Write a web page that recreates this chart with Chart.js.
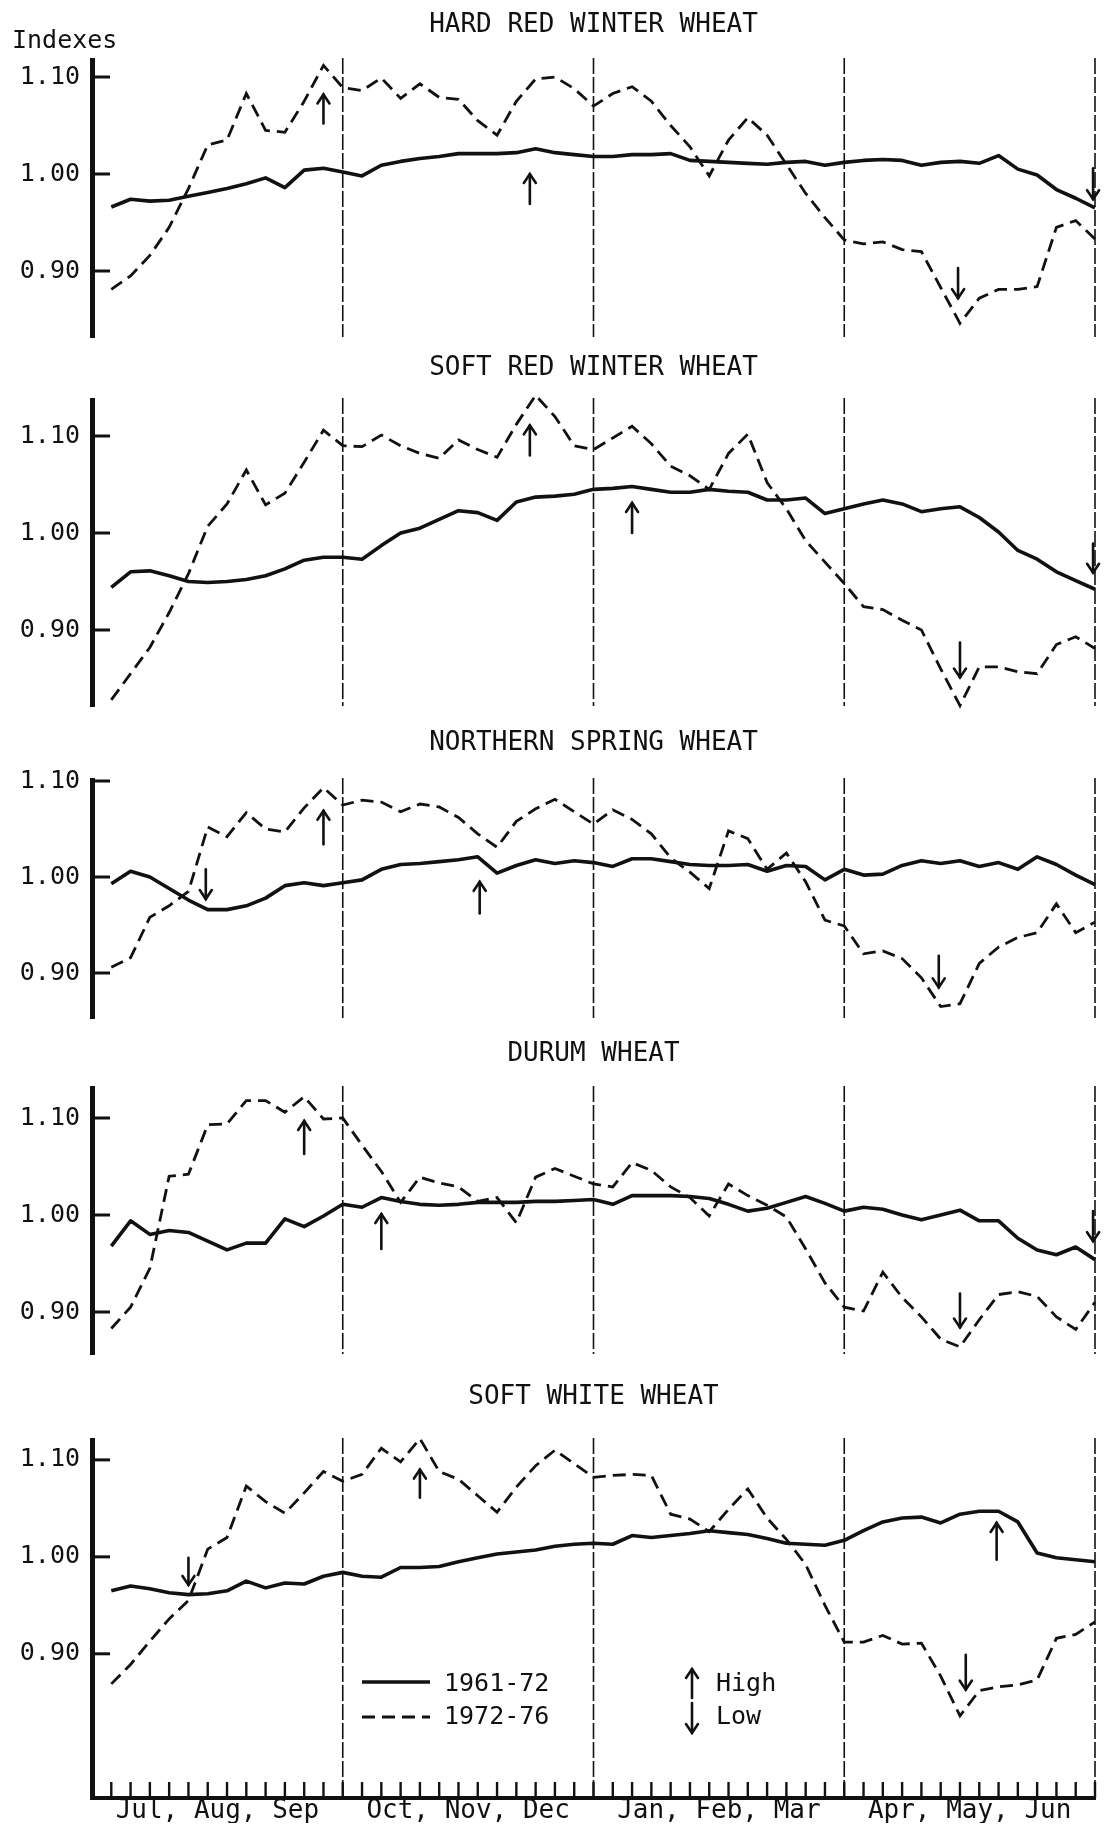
<!DOCTYPE html>
<html>
<head>
<meta charset="utf-8">
<script src="https://cdn.jsdelivr.net/npm/chart.js@4.4.1/dist/chart.umd.min.js"></script>
<style>
  html, body { margin: 0; padding: 0; background: #fff; }
  #wrap { position: relative; width: 1109px; height: 1825px; overflow: hidden; }
  #wrap canvas { position: absolute; left: 0; }
</style>
</head>
<body>
<div id="wrap"></div>
<script>
/* ---------- data (weekly indexes, Jul -> Jun) ---------- */
const weeks = Array.from({length: 52}, (_, i) => i + 1);
const quarterEnds   = [13, 26, 39, 52];
const quarterMids   = [6.5, 19.5, 32.5, 45.5];
const quarterLabels = ['Jul, Aug, Sep', 'Oct, Nov, Dec', 'Jan, Feb, Mar', 'Apr, May, Jun'];
const yTicks        = [0.90, 1.00, 1.10];
const seriesLabels  = ['1961-72', '1972-76'];
const markLabels    = ['High', 'Low'];
const yTitle        = 'Indexes';

const panelTitles = ['HARD RED WINTER WHEAT', 'SOFT RED WINTER WHEAT', 'NORTHERN SPRING WHEAT', 'DURUM WHEAT', 'SOFT WHITE WHEAT'];

// hard red winter
const hrw6172 = [0.966,0.974,0.972,0.973,0.977,0.981,0.985,0.990,0.996,0.986,1.004,1.006,1.002,0.998,1.009,1.013,1.016,1.018,1.021,1.021,1.021,1.022,1.026,1.022,1.020,1.018,
                 1.018,1.020,1.020,1.021,1.014,1.013,1.012,1.011,1.010,1.012,1.013,1.009,1.012,1.014,1.015,1.014,1.009,1.012,1.013,1.011,1.019,1.005,0.999,0.984,0.975,0.965];
const hrw7276 = [0.881,0.895,0.916,0.945,0.985,1.030,1.035,1.083,1.045,1.043,1.075,1.112,1.089,1.086,1.099,1.078,1.093,1.079,1.077,1.055,1.040,1.075,1.098,1.100,1.088,1.070,
                 1.083,1.090,1.075,1.050,1.028,0.998,1.035,1.058,1.040,1.010,0.980,0.955,0.932,0.928,0.930,0.922,0.920,0.883,0.846,0.872,0.881,0.881,0.884,0.945,0.952,0.933];
// soft red winter
const srw6172 = [0.944,0.960,0.961,0.956,0.950,0.949,0.950,0.952,0.956,0.963,0.972,0.975,0.975,0.973,0.987,1.000,1.005,1.014,1.023,1.021,1.013,1.032,1.037,1.038,1.040,1.045,
                 1.046,1.048,1.045,1.042,1.042,1.045,1.043,1.042,1.034,1.034,1.036,1.020,1.025,1.030,1.034,1.030,1.022,1.025,1.027,1.016,1.001,0.982,0.973,0.960,0.951,0.942];
const srw7276 = [0.828,0.855,0.882,0.918,0.958,1.007,1.030,1.065,1.029,1.041,1.073,1.106,1.090,1.089,1.101,1.090,1.082,1.077,1.096,1.086,1.078,1.112,1.142,1.120,1.090,1.086,
                 1.098,1.110,1.092,1.069,1.059,1.045,1.082,1.102,1.052,1.025,0.992,0.970,0.948,0.924,0.921,0.910,0.900,0.860,0.822,0.862,0.862,0.857,0.855,0.885,0.893,0.881];
// northern spring
const nsw6172 = [0.993,1.006,1.000,0.988,0.976,0.966,0.966,0.970,0.978,0.991,0.994,0.991,0.994,0.997,1.008,1.013,1.014,1.016,1.018,1.021,1.004,1.012,1.018,1.014,1.017,1.015,
                 1.011,1.019,1.019,1.016,1.013,1.012,1.012,1.013,1.006,1.012,1.011,0.997,1.008,1.002,1.003,1.012,1.017,1.014,1.017,1.011,1.015,1.008,1.021,1.013,1.002,0.992];
const nsw7276 = [0.906,0.916,0.958,0.970,0.985,1.052,1.042,1.067,1.050,1.047,1.072,1.093,1.075,1.080,1.078,1.068,1.076,1.073,1.062,1.045,1.031,1.058,1.071,1.081,1.068,1.055,
                 1.070,1.060,1.045,1.020,1.005,0.988,1.048,1.040,1.008,1.025,0.995,0.955,0.949,0.920,0.923,0.915,0.895,0.865,0.868,0.910,0.927,0.937,0.942,0.972,0.942,0.953];
// durum
const dur6172 = [0.968,0.994,0.980,0.984,0.982,0.973,0.964,0.971,0.971,0.996,0.988,0.999,1.011,1.008,1.018,1.014,1.011,1.010,1.011,1.013,1.013,1.013,1.014,1.014,1.015,1.016,
                 1.011,1.020,1.020,1.020,1.019,1.017,1.011,1.004,1.007,1.013,1.019,1.012,1.004,1.008,1.006,1.000,0.995,1.000,1.005,0.994,0.994,0.976,0.964,0.959,0.967,0.954];
const dur7276 = [0.883,0.905,0.945,1.040,1.042,1.093,1.094,1.118,1.118,1.106,1.122,1.099,1.100,1.072,1.045,1.013,1.039,1.033,1.029,1.014,1.018,0.992,1.039,1.048,1.040,1.032,
                 1.029,1.054,1.046,1.029,1.018,0.999,1.032,1.020,1.010,0.998,0.965,0.930,0.905,0.901,0.941,0.915,0.895,0.872,0.864,0.892,0.918,0.921,0.916,0.895,0.882,0.910];
// soft white
const sww6172 = [0.965,0.970,0.967,0.963,0.961,0.962,0.965,0.975,0.968,0.973,0.972,0.980,0.984,0.980,0.979,0.989,0.989,0.990,0.995,0.999,1.003,1.005,1.007,1.011,1.013,1.014,
                 1.013,1.022,1.020,1.022,1.024,1.027,1.025,1.023,1.019,1.014,1.013,1.012,1.017,1.027,1.036,1.040,1.041,1.035,1.044,1.047,1.047,1.036,1.004,0.999,0.997,0.995];
const sww7276 = [0.869,0.889,0.913,0.936,0.955,1.008,1.020,1.073,1.057,1.045,1.066,1.088,1.078,1.085,1.112,1.098,1.122,1.088,1.080,1.063,1.046,1.072,1.094,1.110,1.096,1.082,
                 1.084,1.085,1.084,1.044,1.039,1.026,1.049,1.070,1.040,1.018,0.992,0.950,0.912,0.912,0.919,0.910,0.911,0.877,0.836,0.862,0.866,0.868,0.873,0.916,0.920,0.933];

// high / low arrows: [week, tip, tail]
const hrwMarks = [[12, 1.082, 1.052], [22.7, 1.000, 0.969], [44.9, 0.872, 0.903], [51.9, 0.974, 1.006]];
const srwMarks = [[22.7, 1.111, 1.080], [28, 1.031, 1.000], [45, 0.851, 0.887], [51.9, 0.959, 0.989]];
const nswMarks = [[5.9, 0.977, 1.008], [12, 1.069, 1.034], [20.1, 0.995, 0.962], [43.9, 0.885, 0.918]];
const durMarks = [[11, 1.097, 1.063], [15, 1.001, 0.965], [45, 0.884, 0.919], [51.9, 0.973, 1.004]];
const swwMarks = [[5, 0.971, 0.999], [17, 1.090, 1.061], [46.9, 1.035, 0.997], [45.3, 0.863, 0.899]];

/* ---------- layout (page pixels) ---------- */
const boxes = [
  {top: 60,   bottom: 337,  y110: 77,   y090: 271,  titleY: 25},
  {top: 400,  bottom: 706,  y110: 436,  y090: 630,  titleY: 368},
  {top: 780,  bottom: 1018, y110: 781,  y090: 973,  titleY: 743},
  {top: 1088, bottom: 1354, y110: 1118, y090: 1312, titleY: 1054},
  {top: 1440, bottom: 1800, y110: 1460, y090: 1655, titleY: 1397},
];
const panelSeries = [[hrw6172, hrw7276], [srw6172, srw7276], [nsw6172, nsw7276], [dur6172, dur7276], [sww6172, sww7276]];
const panelMarks  = [hrwMarks, srwMarks, nswMarks, durMarks, swwMarks];

const FONT = '"DejaVu Sans Mono", monospace';
const INK = '#111';
const PAD_TOP = 60;
const PAD_BOTTOM = 32;     // room the y labels ask for
const X_AXIS_H = 25;

function drawArrow(ctx, x, yTail, yTip){
  const d = yTip > yTail ? 1 : -1;
  ctx.save();
  ctx.strokeStyle = INK; ctx.lineWidth = 2.6; ctx.setLineDash([]); ctx.lineCap = 'round';
  ctx.beginPath(); ctx.moveTo(x, yTail); ctx.lineTo(x, yTip); ctx.stroke();
  ctx.beginPath(); ctx.moveTo(x - 6, yTip - d * 9); ctx.lineTo(x, yTip); ctx.lineTo(x + 6, yTip - d * 9); ctx.stroke();
  ctx.restore();
}

function makePanel(i){
  const box = boxes[i], last = i === boxes.length - 1;
  const pxPer = (box.y090 - box.y110) / 0.2;
  const yMax = 1.10 + (box.y110 - box.top) / pxPer;
  const yMin = 0.90 - (box.bottom - box.y090) / pxPer;
  const canvasTop = box.top - PAD_TOP;
  const padBottom = last ? 0 : PAD_BOTTOM;
  const h = box.bottom - box.top + PAD_TOP + (last ? X_AXIS_H : padBottom);

  const cv = document.createElement('canvas');
  cv.width = 1109; cv.height = h;
  cv.style.top = canvasTop + 'px';
  document.getElementById('wrap').appendChild(cv);

  const [a, b] = panelSeries[i];

  const decor = {
    id: 'decor',
    beforeDatasetsDraw(chart){
      const {ctx, chartArea: ca, scales: {x, y}} = chart;
      ctx.save();
      // quarter dividers
      ctx.strokeStyle = INK; ctx.lineWidth = 1.6; ctx.setLineDash([16, 3]);
      quarterEnds.forEach(q => {
        const px = x.getPixelForValue(q);
        ctx.beginPath(); ctx.moveTo(px, ca.top - 2); ctx.lineTo(px, ca.bottom); ctx.stroke();
      });
      // tick marks on the index axis
      ctx.setLineDash([]); ctx.lineWidth = 3;
      yTicks.forEach(v => {
        const py = y.getPixelForValue(v);
        ctx.beginPath(); ctx.moveTo(ca.left, py); ctx.lineTo(ca.left + 18, py); ctx.stroke();
      });
      ctx.restore();
    },
    afterDraw(chart){
      const {ctx, chartArea: ca, scales: {x, y}} = chart;
      ctx.save();
      ctx.fillStyle = INK;
      ctx.font = '26px ' + FONT;
      ctx.textAlign = 'center'; ctx.textBaseline = 'middle';
      ctx.fillText(panelTitles[i], (ca.left + ca.right) / 2, box.titleY - canvasTop);
      panelMarks[i].forEach(([w, tip, tail]) => drawArrow(ctx, x.getPixelForValue(w), y.getPixelForValue(tail), y.getPixelForValue(tip)));
      if (i === 0){
        ctx.font = '25px ' + FONT; ctx.textAlign = 'left';
        ctx.fillText(yTitle, 12, 41 - canvasTop);
      }
      if (last){
        // weekly ticks on the month axis
        ctx.strokeStyle = INK; ctx.lineWidth = 2.4;
        weeks.forEach(w => {
          const px = x.getPixelForValue(w);
          ctx.beginPath(); ctx.moveTo(px, ca.bottom); ctx.lineTo(px, ca.bottom - 16); ctx.stroke();
        });
        // legend
        ctx.translate(0, -canvasTop);
        ctx.font = '25px ' + FONT; ctx.textAlign = 'left';
        ctx.lineWidth = 3.6;
        ctx.beginPath(); ctx.moveTo(362, 1682); ctx.lineTo(430, 1682); ctx.stroke();
        ctx.lineWidth = 2.8; ctx.setLineDash([13, 7]);
        ctx.beginPath(); ctx.moveTo(362, 1717); ctx.lineTo(430, 1717); ctx.stroke();
        ctx.setLineDash([]);
        ctx.fillText(seriesLabels[0], 444, 1684);
        ctx.fillText(seriesLabels[1], 444, 1717);
        drawArrow(ctx, 692, 1698, 1669);
        drawArrow(ctx, 692, 1703, 1733);
        ctx.fillText(markLabels[0], 716, 1684);
        ctx.fillText(markLabels[1], 716, 1717);
      }
      ctx.restore();
    }
  };

  new Chart(cv, {
    type: 'line',
    data: {
      datasets: [
        {label: seriesLabels[0], data: weeks.map((w, k) => ({x: w, y: a[k]})),
         borderColor: INK, borderWidth: 3.6, pointRadius: 0, tension: 0, clip: false, borderJoinStyle: 'round'},
        {label: seriesLabels[1], data: weeks.map((w, k) => ({x: w, y: b[k]})),
         borderColor: INK, borderWidth: 2.8, borderDash: [13, 7], pointRadius: 0, tension: 0, clip: false}
      ]
    },
    options: {
      responsive: false, animation: false, devicePixelRatio: 1,
      layout: {padding: {top: PAD_TOP, bottom: padBottom, left: 0, right: 14}},
      plugins: {legend: {display: false}, tooltip: {enabled: false}, title: {display: false}},
      scales: {
        x: {
          type: 'linear', min: 0, max: 52, display: last,
          afterFit: s => { s.height = last ? X_AXIS_H : 0; },
          afterBuildTicks: s => { s.ticks = quarterMids.map(v => ({value: v})); },
          ticks: {autoSkip: false, maxRotation: 0, padding: 0, color: INK,
                  font: {family: FONT, size: 26, lineHeight: 1}, callback: (v, k) => quarterLabels[k]},
          grid: {display: true, drawOnChartArea: false, drawTicks: false},
          border: {display: true, width: 4, color: INK}
        },
        y: {
          min: yMin, max: yMax,
          afterFit: s => { s.width = 92; },
          afterBuildTicks: s => { s.ticks = yTicks.map(v => ({value: v})); },
          ticks: {padding: 12, color: INK, font: {family: FONT, size: 25}, callback: v => v.toFixed(2)},
          grid: {display: true, drawOnChartArea: false, drawTicks: false},
          border: {display: true, width: 5, color: INK}
        }
      }
    },
    plugins: [decor]
  });
}

boxes.forEach((_, i) => makePanel(i));
</script>
</body>
</html>
